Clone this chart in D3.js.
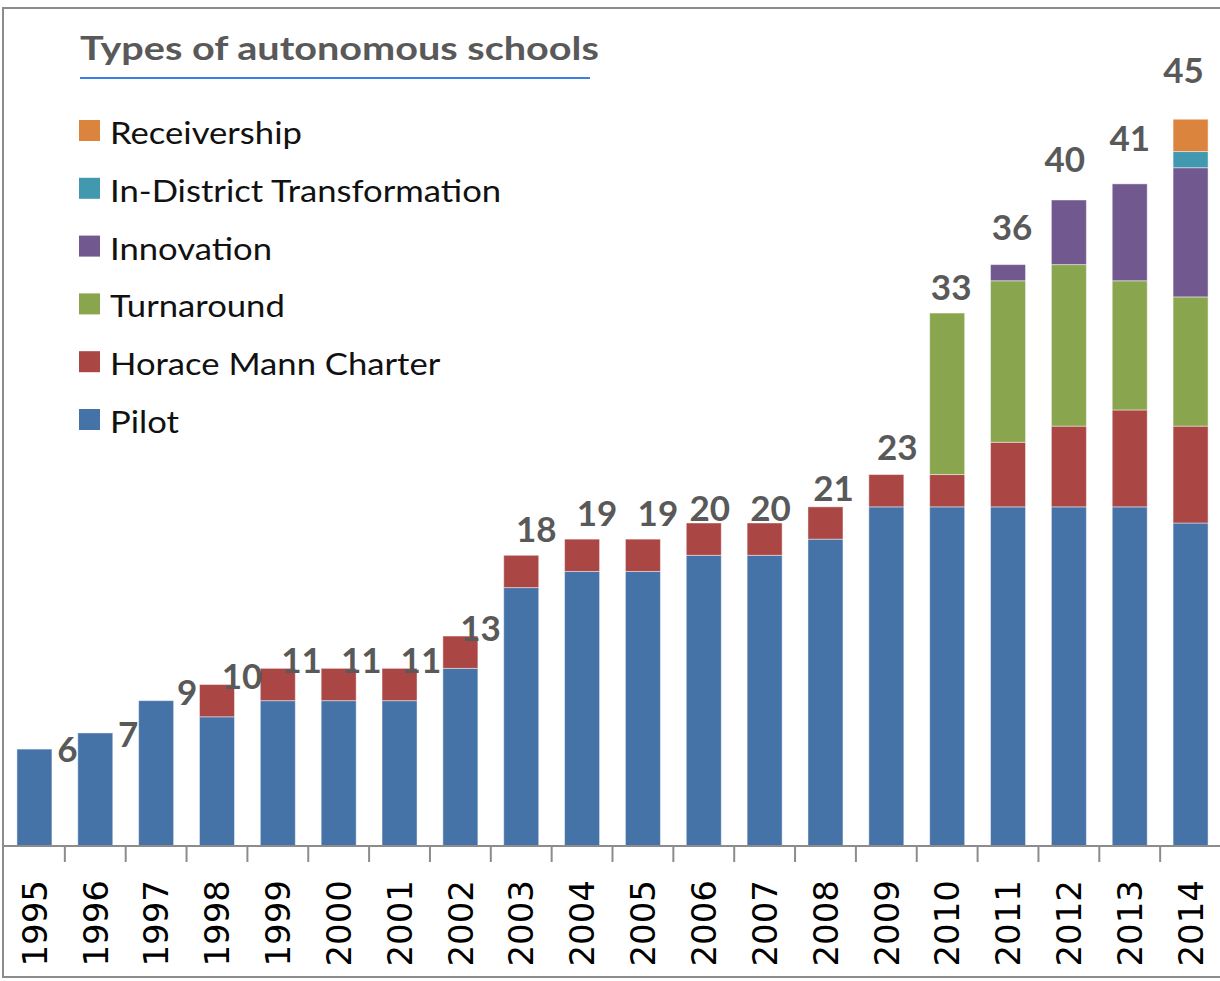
<!DOCTYPE html>
<html>
<head>
<meta charset="utf-8">
<script src="https://cdn.jsdelivr.net/npm/d3@7"></script>
<style>
  body { margin: 0; background: #fff; }
  svg { display: block; }
</style>
</head>
<body>
<div id="chart"></div>
<script>
// values, bottom segment first
const years = ["1995","1996","1997","1998","1999","2000","2001","2002","2003","2004",
               "2005","2006","2007","2008","2009","2010","2011","2012","2013","2014"];
const pilot        = [6,7,9,8,9,9,9,11,16,17,17,18,18,19,21,21,21,21,21,20];
const horaceMann   = [0,0,0,2,2,2,2,2,2,2,2,2,2,2,2,2,4,5,6,6];
const turnaround   = [0,0,0,0,0,0,0,0,0,0,0,0,0,0,0,10,10,10,8,8];
const innovation   = [0,0,0,0,0,0,0,0,0,0,0,0,0,0,0,0,1,4,6,8];
const inDistrict   = [0,0,0,0,0,0,0,0,0,0,0,0,0,0,0,0,0,0,0,1];
const receivership = [0,0,0,0,0,0,0,0,0,0,0,0,0,0,0,0,0,0,0,2];

const seriesNames = ["Pilot","Horace Mann Charter","Turnaround","Innovation",
                     "In-District Transformation","Receivership"];
const seriesColors = ["#4572a7","#aa4643","#89a54e","#71588f","#4198af","#db843d"];
const titleText = "Types of autonomous schools";

const W = 1220, H = 981;
const baseY = 846;

const rows = years.map((y, i) => ({
  year: y,
  "Pilot": pilot[i],
  "Horace Mann Charter": horaceMann[i],
  "Turnaround": turnaround[i],
  "Innovation": innovation[i],
  "In-District Transformation": inDistrict[i],
  "Receivership": receivership[i]
}));

const stacked = d3.stack().keys(seriesNames)(rows);
const totals = rows.map(r => d3.sum(seriesNames, k => r[k]));

const x = d3.scaleBand()
  .domain(years)
  .range([4, 4 + 20 * 60.85])
  .paddingInner(0.425)
  .paddingOuter(0.2125);

const y = d3.scaleLinear()
  .domain([0, 45])
  .range([baseY, baseY - 45 * 16.15]);

const color = d3.scaleOrdinal().domain(seriesNames).range(seriesColors);

const svg = d3.select("#chart").append("svg")
  .attr("width", W)
  .attr("height", H);

// outer frame (right side runs off the picture)
svg.append("rect")
  .attr("x", 3).attr("y", 8)
  .attr("width", W + 20).attr("height", 969)
  .attr("fill", "none")
  .attr("stroke", "#8c8c8c")
  .attr("stroke-width", 2);

// bars
svg.append("g")
  .selectAll("g")
  .data(stacked)
  .join("g")
  .attr("fill", d => color(d.key))
  .selectAll("rect")
  .data(d => d.filter(s => s[1] - s[0] > 0))
  .join("rect")
  .attr("x", d => x(d.data.year))
  .attr("y", d => y(d[1]))
  .attr("width", x.bandwidth())
  .attr("height", d => y(d[0]) - y(d[1]))
  .attr("stroke", "rgba(255,255,255,0.45)")
  .attr("stroke-width", 1);

// x axis: base line, ticks between categories, rotated year labels
const half = (x.step() - x.bandwidth()) / 2;
svg.append("line")
  .attr("x1", 3).attr("x2", W)
  .attr("y1", baseY).attr("y2", baseY)
  .attr("stroke", "#8c8c8c")
  .attr("stroke-width", 2);

svg.append("g")
  .selectAll("line")
  .data(years)
  .join("line")
  .attr("x1", d => x(d) + x.bandwidth() + half)
  .attr("x2", d => x(d) + x.bandwidth() + half)
  .attr("y1", baseY)
  .attr("y2", baseY + 16)
  .attr("stroke", "#8c8c8c")
  .attr("stroke-width", 2);

const xAxis = svg.append("g")
  .attr("transform", `translate(0,${baseY})`)
  .call(d3.axisBottom(x).tickSize(0).tickPadding(0));
xAxis.select(".domain").remove();
xAxis.selectAll("text")
  .attr("font-family", "DejaVu Sans")
  .attr("font-size", 34)
  .attr("fill", "#000")
  .attr("text-anchor", "end")
  .attr("transform", "rotate(-90)")
  .attr("x", -34)
  .attr("y", 0)
  .attr("dy", "0.36em");

// total labels, nudged the way they sit in the original
function nudge(i) {
  if (i <= 1) return [33, i];
  if (i <= 7) return [i === 2 ? 31 : 25 - (i - 3) * 1.2, -8];
  if (i <= 10) return [15, -26];
  if (i <= 13) return [i === 13 ? 8 : 6, i === 13 ? -18 : -15];
  if (i === 14) return [11, -27];
  if (i === 15) return [4, -26];
  return [i === 16 ? 4 : (i === 18 ? 0 : -4) - (i === 19 ? 3 : 0), -37 - (i - 16) * 4];
}

svg.append("g")
  .selectAll("text")
  .data(totals)
  .join("text")
  .attr("x", (d, i) => x(years[i]) + x.bandwidth() / 2 + nudge(i)[0])
  .attr("y", (d, i) => y(d) + nudge(i)[1])
  .attr("dy", "0.36em")
  .attr("text-anchor", "middle")
  .attr("font-family", "Lato")
  .attr("font-weight", "bold")
  .attr("font-size", 35)
  .attr("fill", "#595959")
  .text(d => d);

// title with underline (text is a little wider than Lato, so stretch it)
svg.append("text")
  .attr("transform", "translate(80,60) scale(1.2,1)")
  .attr("font-family", "Lato")
  .attr("font-weight", "bold")
  .attr("font-size", 33)
  .attr("fill", "#595959")
  .text(titleText);

svg.append("line")
  .attr("x1", 80).attr("x2", 590)
  .attr("y1", 78).attr("y2", 78)
  .attr("stroke", "#3b7fe0")
  .attr("stroke-width", 2);

// legend, top entry is the last series
const legend = svg.append("g")
  .selectAll("g")
  .data(seriesNames.slice().reverse())
  .join("g")
  .attr("transform", (d, i) => `translate(79,${120 + i * 57.8})`);

legend.append("rect")
  .attr("width", 21).attr("height", 21)
  .attr("fill", d => color(d));

legend.append("text")
  .attr("transform", "translate(31,24) scale(1.155,1)")
  .attr("font-family", "Lato")
  .attr("font-size", 30)
  .attr("fill", "#111")
  .text(d => d);
</script>
</body>
</html>
